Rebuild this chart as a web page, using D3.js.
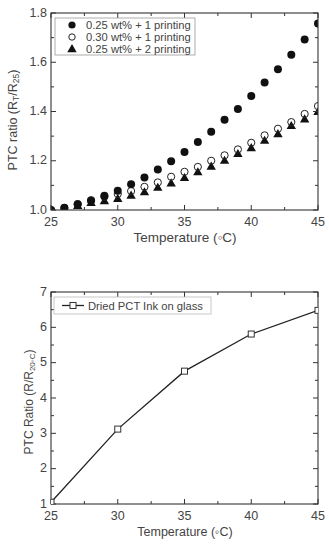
<!DOCTYPE html>
<html>
<head>
<meta charset="utf-8">
<script src="https://cdn.jsdelivr.net/npm/d3@7"></script>
<style>
  body { margin: 0; background: #fff; }
  text { font-family: "Liberation Sans", Arial, sans-serif; fill: #444; }
</style>
</head>
<body>
<div id="chart"></div>
<script>
// Top panel data
const temps = [25, 26, 27, 28, 29, 30, 31, 32, 33, 34, 35, 36, 37, 38, 39, 40, 41, 42, 43, 44, 45];
const filled025 = [1.0, 1.009, 1.023, 1.038, 1.058, 1.078, 1.105, 1.132, 1.164, 1.198, 1.236, 1.276, 1.318, 1.366, 1.41, 1.463, 1.518, 1.572, 1.63, 1.692, 1.757];
const open030 = [1.0, 1.008, 1.024, 1.04, 1.054, 1.065, 1.077, 1.094, 1.112, 1.135, 1.155, 1.175, 1.2, 1.222, 1.246, 1.273, 1.303, 1.33, 1.357, 1.39, 1.422];
const tri025 = [1.0, 1.006, 1.018, 1.03, 1.038, 1.047, 1.06, 1.074, 1.092, 1.11, 1.132, 1.155, 1.178, 1.202, 1.229, 1.253, 1.283, 1.31, 1.343, 1.37, 1.40];
const topSeries = ["0.25 wt% + 1 printing", "0.30 wt% + 1 printing", "0.25 wt% + 2 printing"];
const topYTicks = [1.0, 1.2, 1.4, 1.6, 1.8];

// Bottom panel data
const glassTemps = [25, 30, 35, 40, 45];
const glassRatio = [1.05, 3.12, 4.76, 5.81, 6.48];
const bottomYTicks = [1, 2, 3, 4, 5, 6, 7];
const xTicks = [25, 30, 35, 40, 45];

const svg = d3.select("#chart").append("svg")
    .attr("width", 329)
    .attr("height", 550);

// draw frame with inward ticks on all four sides
function frame(g, x, y, xMajor, xMinor, yMajor, yMinor, yFmt) {
    const [x0, x1] = x.range();
    const [y0, y1] = y.range();
    const ink = "#333";
    g.append("rect").attr("x", x0).attr("y", y1).attr("width", x1 - x0).attr("height", y0 - y1)
        .attr("fill", "none").attr("stroke", ink).attr("stroke-width", 1.1);
    const ticks = g.append("g").attr("stroke", ink).attr("stroke-width", 1);
    xMajor.concat(xMinor).forEach(v => {
        const len = xMajor.includes(v) ? 5 : 3;
        ticks.append("line").attr("x1", x(v)).attr("x2", x(v)).attr("y1", y0).attr("y2", y0 - len);
        ticks.append("line").attr("x1", x(v)).attr("x2", x(v)).attr("y1", y1).attr("y2", y1 + len);
    });
    yMajor.concat(yMinor).forEach(v => {
        const len = yMajor.includes(v) ? 5 : 3;
        ticks.append("line").attr("y1", y(v)).attr("y2", y(v)).attr("x1", x0).attr("x2", x0 + len);
        ticks.append("line").attr("y1", y(v)).attr("y2", y(v)).attr("x1", x1).attr("x2", x1 - len);
    });
    g.selectAll(".xl").data(xMajor).enter().append("text")
        .attr("x", d => x(d)).attr("y", y0 + 15.5)
        .attr("text-anchor", "middle").attr("font-size", 12.5).text(d => d);
    g.selectAll(".yl").data(yMajor).enter().append("text")
        .attr("x", x0 - 4).attr("y", d => y(d) + 3.5)
        .attr("text-anchor", "end").attr("font-size", 12.5).text(yFmt);
}

// ---------- top panel ----------
const xTop = d3.scaleLinear().domain([25, 45]).range([51, 318]);
const yTop = d3.scaleLinear().domain([1.0, 1.8]).range([210, 13]);
const topG = svg.append("g");

topG.append("clipPath").attr("id", "clipTop").append("rect")
    .attr("x", 51).attr("y", 13).attr("width", 267).attr("height", 197);

const pts = topG.append("g").attr("clip-path", "url(#clipTop)");
const tri = d3.symbol().type(d3.symbolTriangle).size(38);

pts.selectAll(".tri").data(temps).enter().append("path")
    .attr("d", tri)
    .attr("transform", (d, i) => `translate(${xTop(d)},${yTop(tri025[i]) + 0.8})`)
    .attr("fill", "#111");
pts.selectAll(".open").data(temps).enter().append("circle")
    .attr("cx", d => xTop(d)).attr("cy", (d, i) => yTop(open030[i]))
    .attr("r", 3.6).attr("fill", "none").attr("stroke", "#222").attr("stroke-width", 1);
pts.selectAll(".fill").data(temps).enter().append("circle")
    .attr("cx", d => xTop(d)).attr("cy", (d, i) => yTop(filled025[i]))
    .attr("r", 4).attr("fill", "#111");

frame(topG, xTop, yTop, xTicks, [27.5, 32.5, 37.5, 42.5],
    topYTicks, [1.1, 1.3, 1.5, 1.7], d => d.toFixed(1));

// legend
const lg = topG.append("g");
lg.append("rect").attr("x", 55).attr("y", 18).attr("width", 140).attr("height", 37)
    .attr("fill", "#fff").attr("stroke", "#999").attr("stroke-width", 0.8);
topSeries.forEach((name, i) => {
    const cy = 25 + i * 12;
    if (i === 0) lg.append("circle").attr("cx", 72).attr("cy", cy).attr("r", 3.6).attr("fill", "#111");
    if (i === 1) lg.append("circle").attr("cx", 72).attr("cy", cy).attr("r", 3.2)
        .attr("fill", "none").attr("stroke", "#222");
    if (i === 2) lg.append("path").attr("d", tri).attr("transform", `translate(72,${cy + 0.5})`).attr("fill", "#111");
    lg.append("text").attr("x", 86).attr("y", cy + 4).attr("font-size", 11.2).text(name);
});

topG.append("text").attr("x", 185).attr("y", 242).attr("text-anchor", "middle")
    .attr("font-size", 13.5).text("Temperature (\u25E6C)");
const ylabTop = topG.append("text").attr("transform", "translate(17,120) rotate(-90)")
    .attr("text-anchor", "middle").attr("font-size", 12.5);
ylabTop.append("tspan").text("PTC ratio (R");
ylabTop.append("tspan").attr("font-size", 8.5).attr("baseline-shift", "-25%").text("T");
ylabTop.append("tspan").text("/R");
ylabTop.append("tspan").attr("font-size", 8.5).attr("baseline-shift", "-25%").text("25");
ylabTop.append("tspan").text(")");

// ---------- bottom panel ----------
const xBot = d3.scaleLinear().domain([25, 45]).range([51, 318]);
const yBot = d3.scaleLinear().domain([1, 7]).range([504, 292]);
const botG = svg.append("g");

frame(botG, xBot, yBot, xTicks, [27.5, 32.5, 37.5, 42.5],
    bottomYTicks, [1.5, 2.5, 3.5, 4.5, 5.5, 6.5], d => d);

botG.append("clipPath").attr("id", "clipBot").append("rect")
    .attr("x", 51).attr("y", 292).attr("width", 267).attr("height", 212);
const bg = botG.append("g").attr("clip-path", "url(#clipBot)");
const line = d3.line().x(d => xBot(d[0])).y(d => yBot(d[1]));
const glass = glassTemps.map((t, i) => [t, glassRatio[i]]);
bg.append("path").datum(glass).attr("d", line)
    .attr("fill", "none").attr("stroke", "#222").attr("stroke-width", 1.3);
bg.selectAll(".sq").data(glass).enter().append("rect")
    .attr("x", d => xBot(d[0]) - 3).attr("y", d => yBot(d[1]) - 3)
    .attr("width", 6).attr("height", 6)
    .attr("fill", "#fff").attr("stroke", "#333").attr("stroke-width", 1);

// legend
const lb = botG.append("g");
lb.append("rect").attr("x", 54).attr("y", 297).attr("width", 157).attr("height", 17)
    .attr("fill", "#fff").attr("stroke", "#bbb").attr("stroke-width", 0.8);
lb.append("line").attr("x1", 62).attr("x2", 84).attr("y1", 305.5).attr("y2", 305.5)
    .attr("stroke", "#222").attr("stroke-width", 1.3);
lb.append("rect").attr("x", 70).attr("y", 302.5).attr("width", 6).attr("height", 6)
    .attr("fill", "#fff").attr("stroke", "#333");
lb.append("text").attr("x", 88).attr("y", 309.5).attr("font-size", 11.2).text("Dried PCT Ink on glass");

botG.append("text").attr("x", 185).attr("y", 536).attr("text-anchor", "middle")
    .attr("font-size", 12.5).text("Temperature (\u25E6C)");
const ylabBot = botG.append("text").attr("transform", "translate(33,402) rotate(-90)")
    .attr("text-anchor", "middle").attr("font-size", 12);
ylabBot.append("tspan").text("PTC Ratio (R/R");
ylabBot.append("tspan").attr("font-size", 8).attr("baseline-shift", "-25%").text("20\u25E6C");
ylabBot.append("tspan").text(")");
</script>
</body>
</html>
